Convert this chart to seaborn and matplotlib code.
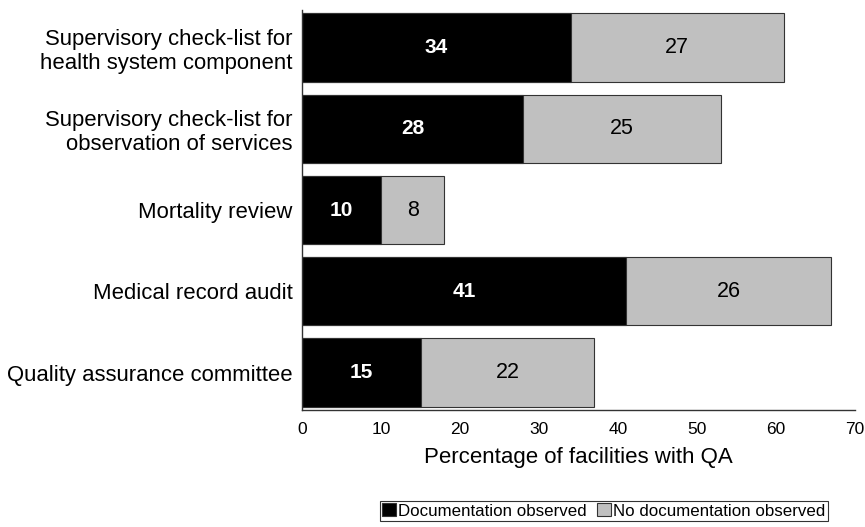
import matplotlib
matplotlib.use("Agg")
import matplotlib.pyplot as plt
import seaborn as sns
import pandas as pd
import numpy as np

categories = ["Supervisory check-list for\nhealth system component",
              "Supervisory check-list for\nobservation of services",
              "Mortality review",
              "Medical record audit",
              "Quality assurance committee"]
documented = [34, 28, 10, 41, 15]
not_documented = [27, 25, 8, 26, 22]
series_names = ["Documentation observed", "No documentation observed"]

sns.set_theme(style="white")
plt.rcParams['font.family'] = ['Liberation Sans', 'DejaVu Sans']
plt.rcParams['text.color'] = 'black'
plt.rcParams['axes.labelcolor'] = 'black'
plt.rcParams['xtick.color'] = 'black'
plt.rcParams['ytick.color'] = 'black'

fig = plt.figure(figsize=(8.65, 5.27), dpi=100)
ax = fig.add_axes([302/865, 1-410/527, (855-302)/865, (410-10)/527])

totals = [a + b for a, b in zip(documented, not_documented)]
df_tot = pd.DataFrame({"cat": categories, "val": totals})
df_doc = pd.DataFrame({"cat": categories, "val": documented})

sns.barplot(data=df_tot, y="cat", x="val", color="#c0c0c0", edgecolor="#333333",
            linewidth=0.8, width=0.84, ax=ax, orient="h", saturation=1,
            label=series_names[1])
sns.barplot(data=df_doc, y="cat", x="val", color="black", edgecolor="#333333",
            linewidth=0.8, width=0.84, ax=ax, orient="h", saturation=1,
            label=series_names[0])

for i, (d, n) in enumerate(zip(documented, not_documented)):
    ax.text(d / 2, i, str(d), ha="center", va="center", color="white",
            fontsize=15, fontweight="bold")
    ax.text(d + n / 2, i, str(n), ha="center", va="center", color="black",
            fontsize=15.5)

ax.set_xlim(0, 70)
ax.set_ylim(4.46, -0.46)
ax.set_xticks(range(0, 71, 10))
ax.tick_params(axis="x", labelsize=12.5, length=0, pad=9)
ax.tick_params(axis="y", labelsize=15.9, length=0, pad=7)
ax.set_ylabel("")
ax.set_xlabel("Percentage of facilities with QA", fontsize=16, labelpad=7)
for s in ["top", "right"]:
    ax.spines[s].set_visible(False)
for s in ["left", "bottom"]:
    ax.spines[s].set_color("#333333")
    ax.spines[s].set_linewidth(1.0)
for lab in ax.get_yticklabels():
    lab.set_ha("right")
    lab.set_multialignment("right")
    lab.set_linespacing(1.18)

handles, labels = ax.get_legend_handles_labels()
if ax.get_legend() is not None:
    ax.get_legend().remove()
order = [labels.index(series_names[0]), labels.index(series_names[1])]
leg = fig.legend([handles[i] for i in order], [labels[i] for i in order],
                 loc="center", bbox_to_anchor=(604/865, 1-511/527), ncol=2,
                 frameon=True, fancybox=False, fontsize=12.2,
                 handlelength=0.8, handleheight=0.8, handletextpad=0.15,
                 columnspacing=0.6, borderpad=0.15, borderaxespad=0)
leg.get_frame().set_edgecolor("black")
leg.get_frame().set_linewidth(0.8)

fig.savefig("out.png", dpi=100)
